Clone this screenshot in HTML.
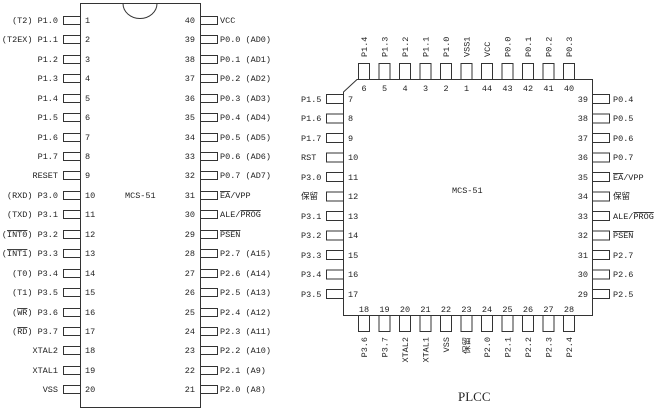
<!DOCTYPE html>
<html><head><meta charset="utf-8"><style>
body{margin:0;background:#fff}
svg{display:block}
text{font-family:"Liberation Mono","Noto Sans CJK SC",monospace;font-size:8.5px;fill:#222}
.o{text-decoration:overline}
</style></head><body>
<svg width="662" height="410" viewBox="0 0 662 410" xmlns="http://www.w3.org/2000/svg">
<g fill="none" stroke="#333" stroke-width="1">
<rect x="80.5" y="3.5" width="120" height="404"/>
<path d="M123 3.5 A17 15 0 0 0 157 3.5"/>
<path d="M343.5 92 L357 79.5 L592.5 79.5 L592.5 315.5 L343.5 315.5 Z"/>
</g>
<g fill="#fff" stroke="#333" stroke-width="1" id="pins">
<!-- DIP left -->
<rect x="63.5" y="16.5" width="17" height="8"/><rect x="63.5" y="35.5" width="17" height="8"/><rect x="63.5" y="55.5" width="17" height="8"/><rect x="63.5" y="74.5" width="17" height="8"/><rect x="63.5" y="94.5" width="17" height="8"/><rect x="63.5" y="113.5" width="17" height="8"/><rect x="63.5" y="133.5" width="17" height="8"/><rect x="63.5" y="152.5" width="17" height="8"/><rect x="63.5" y="171.5" width="17" height="8"/><rect x="63.5" y="191.5" width="17" height="8"/><rect x="63.5" y="210.5" width="17" height="8"/><rect x="63.5" y="230.5" width="17" height="8"/><rect x="63.5" y="249.5" width="17" height="8"/><rect x="63.5" y="269.5" width="17" height="8"/><rect x="63.5" y="288.5" width="17" height="8"/><rect x="63.5" y="308.5" width="17" height="8"/><rect x="63.5" y="327.5" width="17" height="8"/><rect x="63.5" y="346.5" width="17" height="8"/><rect x="63.5" y="366.5" width="17" height="8"/><rect x="63.5" y="385.5" width="17" height="8"/>
<!-- DIP right -->
<rect x="200.5" y="16.5" width="17" height="8"/><rect x="200.5" y="35.5" width="17" height="8"/><rect x="200.5" y="55.5" width="17" height="8"/><rect x="200.5" y="74.5" width="17" height="8"/><rect x="200.5" y="94.5" width="17" height="8"/><rect x="200.5" y="113.5" width="17" height="8"/><rect x="200.5" y="133.5" width="17" height="8"/><rect x="200.5" y="152.5" width="17" height="8"/><rect x="200.5" y="171.5" width="17" height="8"/><rect x="200.5" y="191.5" width="17" height="8"/><rect x="200.5" y="210.5" width="17" height="8"/><rect x="200.5" y="230.5" width="17" height="8"/><rect x="200.5" y="249.5" width="17" height="8"/><rect x="200.5" y="269.5" width="17" height="8"/><rect x="200.5" y="288.5" width="17" height="8"/><rect x="200.5" y="308.5" width="17" height="8"/><rect x="200.5" y="327.5" width="17" height="8"/><rect x="200.5" y="346.5" width="17" height="8"/><rect x="200.5" y="366.5" width="17" height="8"/><rect x="200.5" y="385.5" width="17" height="8"/>
<!-- PLCC top -->
<rect x="358.5" y="63.5" width="11" height="16"/><rect x="379" y="63.5" width="11" height="16"/><rect x="399.5" y="63.5" width="11" height="16"/><rect x="420" y="63.5" width="11" height="16"/><rect x="440.5" y="63.5" width="11" height="16"/><rect x="461" y="63.5" width="11" height="16"/><rect x="481.5" y="63.5" width="11" height="16"/><rect x="502" y="63.5" width="11" height="16"/><rect x="522.5" y="63.5" width="11" height="16"/><rect x="543" y="63.5" width="11" height="16"/><rect x="563.5" y="63.5" width="11" height="16"/>
<!-- PLCC bottom -->
<rect x="358.5" y="315.5" width="11" height="16"/><rect x="379" y="315.5" width="11" height="16"/><rect x="399.5" y="315.5" width="11" height="16"/><rect x="420" y="315.5" width="11" height="16"/><rect x="440.5" y="315.5" width="11" height="16"/><rect x="461" y="315.5" width="11" height="16"/><rect x="481.5" y="315.5" width="11" height="16"/><rect x="502" y="315.5" width="11" height="16"/><rect x="522.5" y="315.5" width="11" height="16"/><rect x="543" y="315.5" width="11" height="16"/><rect x="563.5" y="315.5" width="11" height="16"/>
<!-- PLCC left -->
<rect x="326.5" y="94.5" width="17" height="9"/><rect x="326.5" y="114" width="17" height="9"/><rect x="326.5" y="133.5" width="17" height="9"/><rect x="326.5" y="153" width="17" height="9"/><rect x="326.5" y="172.5" width="17" height="9"/><rect x="326.5" y="192" width="17" height="9"/><rect x="326.5" y="211.5" width="17" height="9"/><rect x="326.5" y="231" width="17" height="9"/><rect x="326.5" y="250.5" width="17" height="9"/><rect x="326.5" y="270" width="17" height="9"/><rect x="326.5" y="289.5" width="17" height="9"/>
<!-- PLCC right -->
<rect x="592.5" y="94.5" width="17" height="9"/><rect x="592.5" y="114" width="17" height="9"/><rect x="592.5" y="133.5" width="17" height="9"/><rect x="592.5" y="153" width="17" height="9"/><rect x="592.5" y="172.5" width="17" height="9"/><rect x="592.5" y="192" width="17" height="9"/><rect x="592.5" y="211.5" width="17" height="9"/><rect x="592.5" y="231" width="17" height="9"/><rect x="592.5" y="250.5" width="17" height="9"/><rect x="592.5" y="270" width="17" height="9"/><rect x="592.5" y="289.5" width="17" height="9"/>
</g>
<!-- DIP left numbers -->
<g>
<text x="85" y="23">1</text><text x="85" y="42">2</text><text x="85" y="62">3</text><text x="85" y="81">4</text><text x="85" y="101">5</text><text x="85" y="120">6</text><text x="85" y="140">7</text><text x="85" y="159">8</text><text x="85" y="178">9</text><text x="85" y="198">10</text><text x="85" y="217">11</text><text x="85" y="237">12</text><text x="85" y="256">13</text><text x="85" y="276">14</text><text x="85" y="295">15</text><text x="85" y="315">16</text><text x="85" y="334">17</text><text x="85" y="353">18</text><text x="85" y="373">19</text><text x="85" y="392">20</text>
</g>
<g text-anchor="end">
<text x="58" y="23">(T2) P1.0</text><text x="58" y="42">(T2EX) P1.1</text><text x="58" y="62">P1.2</text><text x="58" y="81">P1.3</text><text x="58" y="101">P1.4</text><text x="58" y="120">P1.5</text><text x="58" y="140">P1.6</text><text x="58" y="159">P1.7</text><text x="58" y="178">RESET</text><text x="58" y="198">(RXD) P3.0</text><text x="58" y="217">(TXD) P3.1</text><text x="58" y="237">(<tspan class="o">INT0</tspan>) P3.2</text><text x="58" y="256">(<tspan class="o">INT1</tspan>) P3.3</text><text x="58" y="276">(T0) P3.4</text><text x="58" y="295">(T1) P3.5</text><text x="58" y="315">(<tspan class="o">WR</tspan>) P3.6</text><text x="58" y="334">(<tspan class="o">RD</tspan>) P3.7</text><text x="58" y="353">XTAL2</text><text x="58" y="373">XTAL1</text><text x="58" y="392">VSS</text>
<!-- DIP right numbers -->
<text x="195" y="23">40</text><text x="195" y="42">39</text><text x="195" y="62">38</text><text x="195" y="81">37</text><text x="195" y="101">36</text><text x="195" y="120">35</text><text x="195" y="140">34</text><text x="195" y="159">33</text><text x="195" y="178">32</text><text x="195" y="198">31</text><text x="195" y="217">30</text><text x="195" y="237">29</text><text x="195" y="256">28</text><text x="195" y="276">27</text><text x="195" y="295">26</text><text x="195" y="315">25</text><text x="195" y="334">24</text><text x="195" y="353">23</text><text x="195" y="373">22</text><text x="195" y="392">21</text>
</g>
<g>
<text x="220" y="23">VCC</text><text x="220" y="42">P0.0 (AD0)</text><text x="220" y="62">P0.1 (AD1)</text><text x="220" y="81">P0.2 (AD2)</text><text x="220" y="101">P0.3 (AD3)</text><text x="220" y="120">P0.4 (AD4)</text><text x="220" y="140">P0.5 (AD5)</text><text x="220" y="159">P0.6 (AD6)</text><text x="220" y="178">P0.7 (AD7)</text><text x="220" y="198"><tspan class="o">EA</tspan>/VPP</text><text x="220" y="217">ALE/<tspan class="o">PROG</tspan></text><text x="220" y="237"><tspan class="o">PSEN</tspan></text><text x="220" y="256">P2.7 (A15)</text><text x="220" y="276">P2.6 (A14)</text><text x="220" y="295">P2.5 (A13)</text><text x="220" y="315">P2.4 (A12)</text><text x="220" y="334">P2.3 (A11)</text><text x="220" y="353">P2.2 (A10)</text><text x="220" y="373">P2.1 (A9)</text><text x="220" y="392">P2.0 (A8)</text>
<text x="125" y="198">MCS-51</text>
<text x="452" y="193">MCS-51</text>
</g>
<!-- PLCC top numbers -->
<g text-anchor="middle">
<text x="364" y="91">6</text><text x="384.5" y="91">5</text><text x="405" y="91">4</text><text x="425.5" y="91">3</text><text x="446" y="91">2</text><text x="466.5" y="91">1</text><text x="487" y="91">44</text><text x="507.5" y="91">43</text><text x="528" y="91">42</text><text x="548.5" y="91">41</text><text x="569" y="91">40</text>
<text x="364" y="312">18</text><text x="384.5" y="312">19</text><text x="405" y="312">20</text><text x="425.5" y="312">21</text><text x="446" y="312">22</text><text x="466.5" y="312">23</text><text x="487" y="312">24</text><text x="507.5" y="312">25</text><text x="528" y="312">26</text><text x="548.5" y="312">27</text><text x="569" y="312">28</text>
</g>
<g>
<text transform="translate(367,57) rotate(-90)">P1.4</text><text transform="translate(387.5,57) rotate(-90)">P1.3</text><text transform="translate(408,57) rotate(-90)">P1.2</text><text transform="translate(428.5,57) rotate(-90)">P1.1</text><text transform="translate(449,57) rotate(-90)">P1.0</text><text transform="translate(469.5,57) rotate(-90)">VSS1</text><text transform="translate(490,57) rotate(-90)">VCC</text><text transform="translate(510.5,57) rotate(-90)">P0.0</text><text transform="translate(531,57) rotate(-90)">P0.1</text><text transform="translate(551.5,57) rotate(-90)">P0.2</text><text transform="translate(572,57) rotate(-90)">P0.3</text>
</g>
<g text-anchor="end">
<text transform="translate(367,337) rotate(-90)">P3.6</text><text transform="translate(387.5,337) rotate(-90)">P3.7</text><text transform="translate(408,337) rotate(-90)">XTAL2</text><text transform="translate(428.5,337) rotate(-90)">XTAL1</text><text transform="translate(449,337) rotate(-90)">VSS</text><text transform="translate(469.5,337) rotate(-90)">保留</text><text transform="translate(490,337) rotate(-90)">P2.0</text><text transform="translate(510.5,337) rotate(-90)">P2.1</text><text transform="translate(531,337) rotate(-90)">P2.2</text><text transform="translate(551.5,337) rotate(-90)">P2.3</text><text transform="translate(572,337) rotate(-90)">P2.4</text>
<!-- right numbers -->
<text x="588" y="102">39</text><text x="588" y="121">38</text><text x="588" y="141">37</text><text x="588" y="160">36</text><text x="588" y="180">35</text><text x="588" y="199">34</text><text x="588" y="219">33</text><text x="588" y="238">32</text><text x="588" y="258">31</text><text x="588" y="277">30</text><text x="588" y="297">29</text>
</g>
<g>
<text x="301" y="102">P1.5</text><text x="301" y="121">P1.6</text><text x="301" y="141">P1.7</text><text x="301" y="160">RST</text><text x="301" y="180">P3.0</text><text x="301" y="199">保留</text><text x="301" y="219">P3.1</text><text x="301" y="238">P3.2</text><text x="301" y="258">P3.3</text><text x="301" y="277">P3.4</text><text x="301" y="297">P3.5</text>
<text x="348" y="102">7</text><text x="348" y="121">8</text><text x="348" y="141">9</text><text x="348" y="160">10</text><text x="348" y="180">11</text><text x="348" y="199">12</text><text x="348" y="219">13</text><text x="348" y="238">14</text><text x="348" y="258">15</text><text x="348" y="277">16</text><text x="348" y="297">17</text>
<text x="613" y="102">P0.4</text><text x="613" y="121">P0.5</text><text x="613" y="141">P0.6</text><text x="613" y="160">P0.7</text><text x="613" y="180"><tspan class="o">EA</tspan>/VPP</text><text x="613" y="199">保留</text><text x="613" y="219">ALE/<tspan class="o">PROG</tspan></text><text x="613" y="238"><tspan class="o">PSEN</tspan></text><text x="613" y="258">P2.7</text><text x="613" y="277">P2.6</text><text x="613" y="297">P2.5</text>
</g>
<text x="458" y="401" style="font-family:'Liberation Serif',serif;font-size:13px">PLCC</text>
</svg>
</body></html>
